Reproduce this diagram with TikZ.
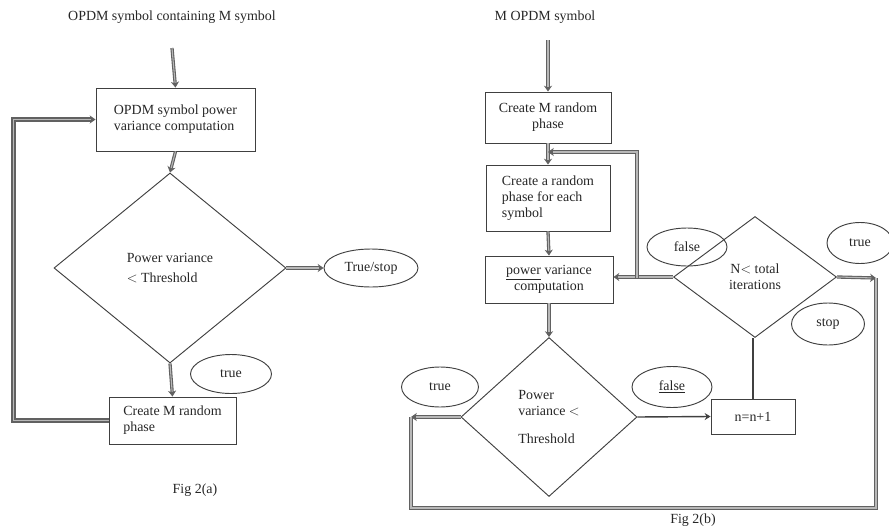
\documentclass[tikz,border=0pt]{standalone}
\usepackage{fontspec}
\setmainfont{Liberation Serif}
\usetikzlibrary{arrows.meta, shapes.geometric}
\tikzset{box/.style={draw=black!75, line width=0.8pt, align=center, inner sep=0pt}}
\tikzset{lbox/.style={box, align=left}}
\tikzset{test/.style={diamond, draw=black!75, line width=0.8pt, align=left, inner sep=0pt, aspect=1}}
\tikzset{tag/.style={ellipse, draw=black!75, line width=0.8pt, inner sep=0pt}}
\tikzset{pipe/.style={draw=black!62, line width=2.8pt, -{Stealth[length=5pt, width=7pt]}, postaction={draw=black!28, line width=0.9pt, -, shorten >=4pt}}}
\tikzset{bar/.style={draw=black!62, line width=2.8pt, postaction={draw=black!28, line width=0.9pt}}}
\tikzset{link/.style={draw=black!75, line width=1.2pt, -{Stealth[length=5pt, width=6pt]}}}

\begin{document}
\begin{tikzpicture}[x=0.03cm, y=-0.03cm, font=\fontsize{11.9}{13.7}\selectfont, text=black!85]
		\useasboundingbox (0,0) rectangle (889,528);

		% Coordinates
		\coordinate (inA) at (172,48);
		\coordinate (inB) at (548,40);
		\coordinate (join) at (548,152);
		\coordinate (br) at (637,278);
		\coordinate (cR) at (876,278);
		\coordinate (cL) at (411,417);
		\coordinate (cB) at (411,508);

		% Fig 2(a)
		\node (titleA) at (172,17) {OPDM symbol containing M symbol};
		\node[lbox, minimum width=4.77cm, minimum height=1.89cm] (comp) at (175.5,119.5) {OPDM symbol power\\variance computation};
		\node[test, minimum width=6.96cm, minimum height=5.7cm] (thr) at (170,268) {Power variance\\[4pt]$<$ Threshold};
		\node[tag, minimum width=2.82cm, minimum height=1.14cm] (stopA) at (371,268) {True/stop};
		\node[tag, minimum width=2.43cm, minimum height=1.17cm] (trueA) at (231,374) {true};
		\node[lbox, minimum width=3.81cm, minimum height=1.41cm] (newA) at (172.5,420.5) {Create M random\\phase};
		\node (figA) at (195,490) {Fig 2(a)};

		\draw[pipe] (inA) -- (comp.north);
		\draw[pipe] (comp.south) -- (thr.north);
		\draw[pipe] (thr.east) -- (stopA.west);
		\draw[pipe] (thr.south) -- (newA.north);
		\draw[pipe, line width=3.6pt] (newA.west) -- ++(-95,0) |- (comp.west);

		% Fig 2(b)
		\node (titleB) at (545,17) {M OPDM symbol};
		\node[box, minimum width=3.78cm, minimum height=1.53cm] (newB) at (548,117.5) {Create M random\\phase};
		\node[lbox, minimum width=3.72cm, minimum height=1.98cm] (each) at (548,198) {Create a random\\phase for each\\symbol};
		\node[box, minimum width=3.84cm, minimum height=1.41cm] (pow) at (549,279.5) {\underline{power} variance\\computation};
		\node[test, minimum width=5.28cm, minimum height=4.77cm] (thrB) at (549,417) {Power\\variance $<$\\[10pt]Threshold};
		\node[tag, minimum width=2.31cm, minimum height=1.2cm] (trueB) at (440,387) {true};
		\node[tag, minimum width=2.4cm, minimum height=1.23cm] (falseB) at (672,387) {\underline{false}};
		\node[box, minimum width=2.52cm, minimum height=1.05cm] (inc) at (753,416.5) {n=n+1};
		\node[test, align=center, minimum width=4.89cm, minimum height=3.63cm] (iter) at (755,277) {N$<$ total\\iterations};
		\node[tag, minimum width=2.4cm, minimum height=1.14cm] (falseN) at (687,247) {false};
		\node[tag, minimum width=1.98cm, minimum height=1.23cm] (trueN) at (860,243) {true};
		\node[tag, minimum width=2.19cm, minimum height=1.26cm] (stopB) at (828,324) {stop};
		\node (figB) at (693,520) {Fig 2(b)};

		\draw[pipe] (inB) -- (newB.north);
		\draw[pipe] (newB.south) -- (each.north);
		\draw[pipe] (each.south) -- (pow.north);
		\draw[pipe] (pow.south) -- (thrB.north);
		\draw[link] (thrB.east) -- (inc.west);
		\draw[link, -] (inc.north) -- (inc.north |- iter.south);
		\draw[pipe] (iter.west) -- (iter.west -| pow.east);
		\draw[pipe] (br) |- (join);
		\draw[pipe] (iter.east) -- (cR);
		\draw[pipe] (thrB.west) -- (cL);
		\draw[bar] (cR) |- (cB) -- (cL);
	\end{tikzpicture}
\end{document}
